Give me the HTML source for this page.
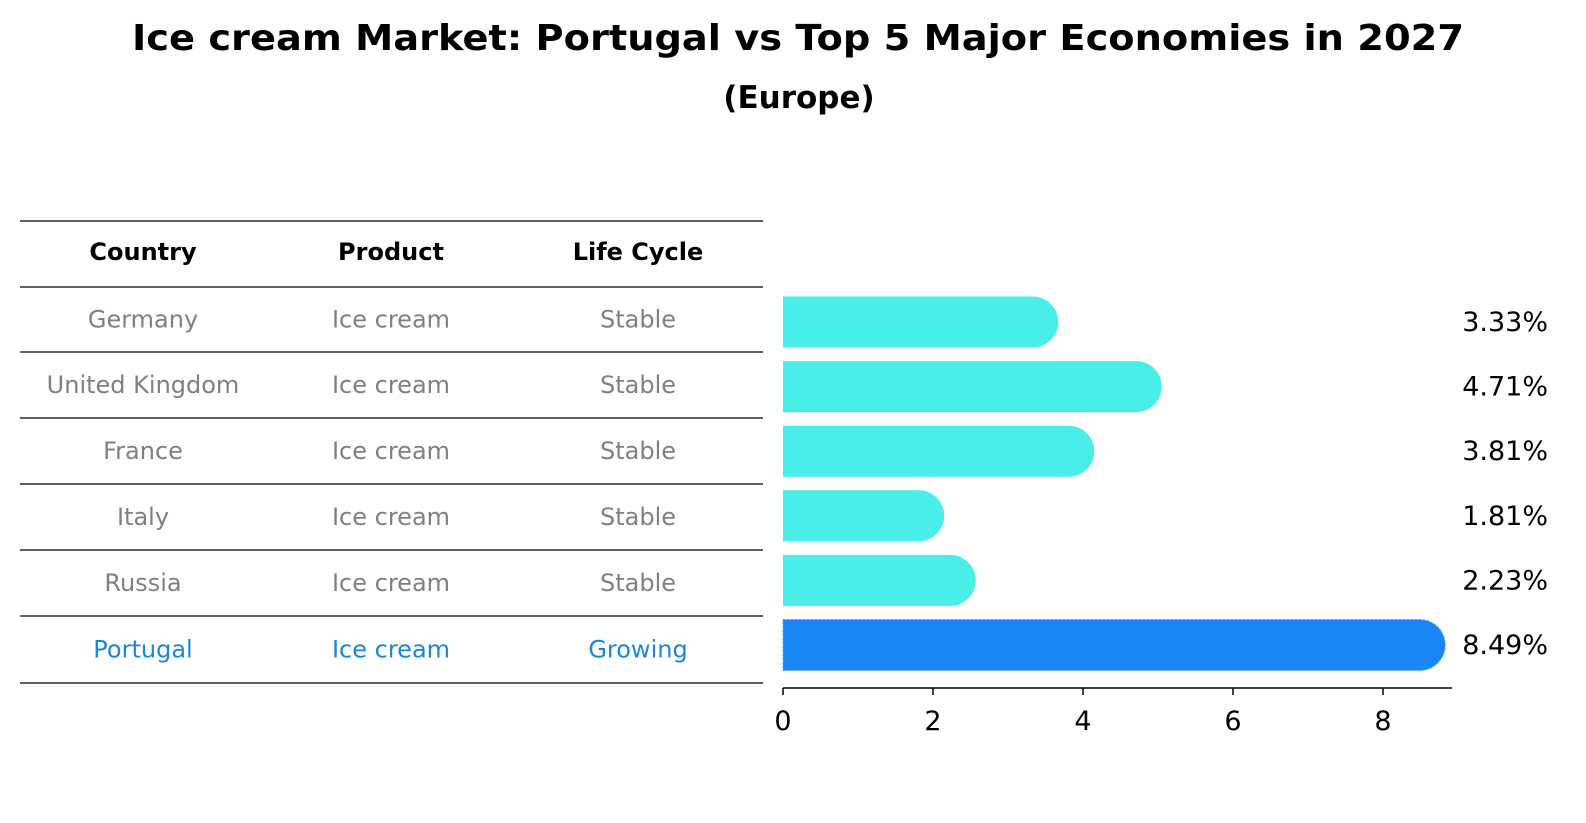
<!DOCTYPE html>
<html><head><meta charset="utf-8"><style>
html,body{margin:0;padding:0;background:#fff;overflow:hidden;width:1586px;height:823px;}
svg{display:block;font-family:"DejaVu Sans","Liberation Sans",sans-serif;}
</style></head><body>
<svg id="chart" width="1586" height="823" viewBox="0 0 1586 823" xmlns="http://www.w3.org/2000/svg">
<text x="798" y="50" text-anchor="middle" font-size="36" font-weight="bold" textLength="1332" lengthAdjust="spacingAndGlyphs">Ice cream Market: Portugal vs Top 5 Major Economies in 2027</text>
<text x="799" y="108" text-anchor="middle" font-size="31" font-weight="bold">(Europe)</text>
<g id="table"></g>
<g id="bars"></g>
<g id="axis"></g>
</svg>
<script>
const countries=["Germany","United Kingdom","France","Italy","Russia","Portugal"];
const products=["Ice cream","Ice cream","Ice cream","Ice cream","Ice cream","Ice cream"];
const lifecycle=["Stable","Stable","Stable","Stable","Stable","Growing"];
const values=[3.33,4.71,3.81,1.81,2.23,8.49];
const valueLabels=["3.33%","4.71%","3.81%","1.81%","2.23%","8.49%"];
const ticks=[0,2,4,6,8];
const NS="http://www.w3.org/2000/svg";
function mk(t,a,p){const e=document.createElementNS(NS,t);for(const k in a)e.setAttribute(k,a[k]);p.appendChild(e);return e;}
const x=v=>783+v*75;
const rowY=i=>322+i*64.6;
const tbl=document.getElementById('table');
const lines=[221,287,352,418,484,550,616,683];
lines.forEach((ly,i)=>{const l=mk('line',{x1:20,x2:763,y1:ly,y2:ly,stroke:'#000','stroke-width':1.2},tbl);

});
const cols=[143,391,638];
["Country","Product","Life Cycle"].forEach((h,j)=>{const t=mk('text',{x:cols[j],y:260,'text-anchor':'middle','font-size':24,'font-weight':'bold'},tbl);t.textContent=h;

});
countries.forEach((c,i)=>{const cy=lines[i+1]+(lines[i+2]-lines[i+1])/2+8;const col=i===5?'#1a86e0':'#808080';
[c,products[i],lifecycle[i]].forEach((s,j)=>{const t=mk('text',{x:cols[j],y:cy,'text-anchor':'middle','font-size':24,fill:col},tbl);t.textContent=s;

});});
const bars=document.getElementById('bars');
const h=51;
values.forEach((v,i)=>{const cy=rowY(i);const col=i===5?'#1a86f5':'#4aeee8';
const p=mk('path',{d:`M${x(0)},${cy-h/2} H${x(v)} A${h/2},${h/2} 0 0 1 ${x(v)},${cy+h/2} H${x(0)} Z`,fill:col},bars);
if(i===5){p.setAttribute('stroke','#4aa6f0');p.setAttribute('stroke-dasharray','2,2');}


const t=mk('text',{x:1548,y:cy+9,'text-anchor':'end','font-size':27},bars);t.textContent=valueLabels[i];

});
const ax=document.getElementById('axis');
const al=mk('line',{x1:783,x2:1452,y1:688,y2:688,stroke:'#000','stroke-width':1.5},ax);


ticks.forEach(v=>{const tl=mk('line',{x1:x(v),x2:x(v),y1:688,y2:695,stroke:'#000','stroke-width':1.5},ax);


const t=mk('text',{x:x(v),y:730,'text-anchor':'middle','font-size':27},ax);t.textContent=v;

});
</script>
</body></html>
